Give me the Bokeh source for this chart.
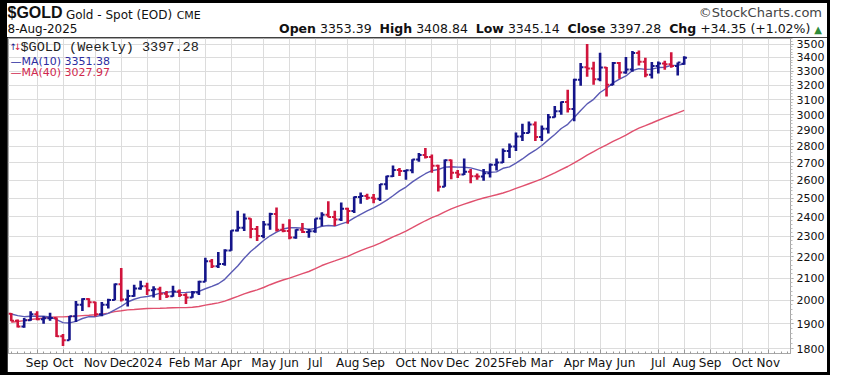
import numpy as np
import pandas as pd
from bokeh.plotting import figure
from bokeh.layouts import column
from bokeh.models import (FixedTicker, Label, NumeralTickFormatter, Range1d, ColumnDataSource, Div)
from bokeh.embed import file_html
from bokeh.resources import INLINE

# ---------------- data (weekly bars, $GOLD spot) ----------------
first_week = "2023-08-11"
opens = [1943,1913,1889,1915,1940,1919,1924,1925,1849,1833,
         1932,1981,2006,1992,1940,1981,2002,2072,2004,2019,
         2053,2063,2045,2049,2029,2018,2039,2024,2013,2035,
         2083,2179,2155,2165,2230,2330,2344,2392,2337,2302,
         2360,2415,2334,2327,2294,2333,2322,2326,2392,2411,
         2400,2386,2443,2431,2507,2512,2503,2497,2577,2622,
         2658,2653,2657,2721,2747,2736,2684,2563,2716,2643,
         2633,2648,2622,2621,2640,2690,2703,2771,2798,2861,
         2883,2936,2858,2910,2984,3023,3085,3038,3237,3327,
         3319,3241,3325,3202,3358,3289,3311,3433,3368,3274,
         3337,3355,3350,3337,3353.39]
highs = [1946,1918,1925,1953,1953,1932,1947,1927,1858,1933,
         1997,2009,2009,1994,1993,2007,2075,2146,2047,2070,
         2088,2078,2063,2061,2041,2065,2048,2031,2041,2088,
         2195,2189,2223,2236,2331,2432,2418,2393,2353,2378,
         2422,2450,2364,2388,2336,2368,2339,2392,2424,2483,
         2432,2477,2448,2509,2531,2525,2523,2578,2625,2685,
         2670,2660,2722,2759,2790,2750,2689,2721,2721,2658,
         2726,2664,2638,2665,2697,2726,2786,2817,2886,2942,
         2955,2956,2930,3005,3057,3087,3168,3245,3358,3500,
         3367,3435,3330,3366,3365,3403,3447,3451,3398,3366,
         3369,3375,3439,3363,3408.84]
lows = [1911,1885,1884,1913,1915,1901,1913,1846,1810,1833,
        1908,1954,1970,1931,1932,1965,2001,1995,1973,2016,
        2047,2024,2013,2002,2010,2016,2015,1984,2011,2024,
        2083,2146,2146,2157,2229,2325,2327,2291,2277,2291,
        2333,2325,2321,2286,2288,2317,2293,2318,2351,2398,
        2353,2378,2364,2421,2470,2492,2472,2485,2546,2618,
        2624,2603,2640,2707,2727,2643,2537,2563,2605,2613,
        2630,2583,2603,2597,2615,2656,2699,2730,2772,2832,
        2881,2833,2832,2880,2982,3000,3015,2957,3195,3260,
        3202,3228,3121,3200,3245,3280,3294,3341,3255,3247,
        3283,3310,3324,3268,3345.14]
closes = [1913,1889,1915,1940,1919,1924,1925,1849,1833,1932,
          1981,2006,1992,1940,1981,2002,2072,2004,2019,2053,
          2063,2045,2049,2029,2018,2039,2024,2013,2035,2083,
          2179,2155,2165,2230,2330,2344,2392,2337,2302,2360,
          2415,2334,2327,2294,2333,2322,2326,2392,2411,2400,
          2386,2443,2431,2507,2512,2503,2497,2577,2622,2658,
          2653,2657,2721,2747,2736,2684,2563,2716,2643,2633,
          2648,2622,2621,2640,2690,2703,2771,2798,2861,2883,
          2936,2858,2910,2984,3023,3085,3038,3237,3327,3319,
          3241,3325,3202,3358,3289,3311,3433,3368,3274,3337,
          3355,3350,3337,3363,3397.28]
# 39 weekly closes before the first bar (needed for the moving averages)
pre_closes = [1771,1751,1755,1797,1797,1793,1798,1824,1866,1920,
              1926,1928,1865,1865,1842,1811,1856,1868,1989,1978,
              1969,2008,2004,1983,1990,2017,2011,1977,1946,1948,
              1961,1958,1921,1919,1925,1955,1962,1959,1943]

month_tick_dates = ["2023-09-08","2023-10-06","2023-11-10","2023-12-08","2024-01-05",
                    "2024-02-09","2024-03-08","2024-04-05","2024-05-10","2024-06-07",
                    "2024-07-05","2024-08-09","2024-09-06","2024-10-11","2024-11-08",
                    "2024-12-06","2025-01-10","2025-02-07","2025-03-07","2025-04-11",
                    "2025-05-09","2025-06-06","2025-07-11","2025-08-08","2025-09-05",
                    "2025-10-10","2025-11-07"]
month_tick_labels = ["Sep","Oct","Nov","Dec","2024","Feb","Mar","Apr","May","Jun",
                     "Jul","Aug","Sep","Oct","Nov","Dec","2025","Feb","Mar","Apr",
                     "May","Jun","Jul","Aug","Sep","Oct","Nov"]
y_ticks = [1800,1900,2000,2100,2200,2300,2400,2500,2600,2700,2800,2900,
           3000,3100,3200,3300,3400,3500]
y_tick_labels = [str(v) for v in y_ticks]

title_symbol = "$GOLD"
title_name = "Gold - Spot (EOD)"
title_exchange = "CME"
title_date = "8-Aug-2025"
header_fields = [("Open", "3353.39"), ("High", "3408.84"), ("Low", "3345.14"),
                 ("Close", "3397.28"), ("Chg", "+34.35 (+1.02%)")]
legend_main = "$GOLD (Weekly) 3397.28"
legend_ma10 = "\u2014MA(10) 3351.38"
legend_ma40 = "\u2014MA(40) 3027.97"

# ---------------- derived ----------------
dates = pd.date_range(first_week, periods=len(closes), freq="7D")
allc = np.array(pre_closes + closes, dtype=float)
def sma(a, n):
    return np.convolve(a, np.ones(n) / n, mode="valid")
ma10 = sma(allc, 10)[-len(closes):]
ma40 = sma(allc, 40)[-len(closes):]

BLUE = "#15158a"
RED = "#d0143c"
o = np.array(opens); c = np.array(closes)
colors = np.where(c >= o, BLUE, RED)
tick = pd.Timedelta(days=3)

src = ColumnDataSource(dict(x=dates, xl=dates - tick, xr=dates + tick,
                            o=opens, h=highs, l=lows, c=closes, col=list(colors)))

def ms(d):
    return pd.Timestamp(d).value / 1e6

# ---------------- header (HTML, mixed weights) ----------------
ohlc_html = "&nbsp; ".join(f"<b>{k}</b> {v}" for k, v in header_fields)
ohlc_html += ' <span style="color:#2e8b3a;font-size:10px;">&#9650;</span>'
hdr = (
    '<div style="position:relative;width:820px;height:34px;background:#ffffff;color:#111111;'
    "font-family:'DejaVu Sans',sans-serif;white-space:nowrap;line-height:1;\">"
    f"<span style=\"position:absolute;left:0.5px;top:2.3px;font:bold 16px/1 'Liberation Sans',sans-serif;\">{title_symbol}</span>"
    f'<span style="position:absolute;left:58.9px;top:5.6px;font-size:12px;">{title_name}</span>'
    f'<span style="position:absolute;left:169.7px;top:6.5px;font-size:11px;">{title_exchange}</span>'
    '<span style="position:absolute;right:5px;top:3.4px;font-size:13px;color:#444444;">&copy;StockCharts.com</span>'
    f'<span style="position:absolute;left:0.5px;top:20.3px;font-size:12px;">{title_date}</span>'
    f'<span style="position:absolute;right:5px;top:20px;font-size:12.5px;">{ohlc_html}</span>'
    "</div>"
)
div = Div(text=hdr, width=820, height=34, margin=(3, 3, 0, 7),
          styles={"background-color": "#ffffff"})

# ---------------- main chart ----------------
W, H = 820, 335
TOP, BOT, LEFT, RIGHT = 1, 17, 1, 35
FH = H - TOP - BOT
Y0, Y1 = 1781, 3543

x0 = pd.Timestamp(first_week)
p = figure(width=W, height=H, x_axis_type="datetime", y_axis_type="log",
           y_axis_location="right",
           x_range=Range1d(x0 - pd.Timedelta(days=2.96), x0 + pd.Timedelta(days=843)),
           y_range=Range1d(Y0, Y1),
           output_backend="svg", toolbar_location=None,
           min_border_left=LEFT, min_border_right=RIGHT,
           min_border_top=TOP, min_border_bottom=BOT,
           background_fill_color="white", border_fill_color="white",
           outline_line_color="#a8a8a8", margin=(0, 3, 3, 7))

p.xgrid.grid_line_color = "#dcdcdc"
p.ygrid.grid_line_color = "#dcdcdc"

mticks = [ms(d) for d in month_tick_dates]
minor = [ms(d) for d in pd.date_range("2023-08-04", "2025-12-05", freq="7D")]
p.xaxis.ticker = FixedTicker(ticks=mticks, minor_ticks=minor)
p.xaxis.major_label_overrides = {t: lab for t, lab in zip(mticks, month_tick_labels)}
p.xaxis.major_label_text_font = "DejaVu Sans"
p.xaxis.major_label_text_font_size = "12px"
p.xaxis.major_label_text_color = "#111111"
p.xaxis.major_label_standoff = 2
p.xaxis.major_tick_in = 4
p.xaxis.major_tick_out = 0
p.xaxis.minor_tick_in = 2
p.xaxis.minor_tick_out = 0
p.xaxis.axis_line_color = "#a8a8a8"
p.xaxis.major_tick_line_color = "#999999"
p.xaxis.minor_tick_line_color = "#999999"

p.yaxis.ticker = FixedTicker(ticks=y_ticks, minor_ticks=list(range(1780, 3560, 20)))
p.yaxis.formatter = NumeralTickFormatter(format="0")
p.yaxis.major_label_overrides = {v: s for v, s in zip(y_ticks, y_tick_labels)}
p.yaxis.major_label_text_font = "DejaVu Sans"
p.yaxis.major_label_text_font_size = "11px"
p.yaxis.major_label_text_color = "#111111"
p.yaxis.major_label_standoff = 3
p.yaxis.major_tick_in = 0
p.yaxis.major_tick_out = 3
p.yaxis.minor_tick_in = 0
p.yaxis.minor_tick_out = 2
p.yaxis.axis_line_color = "#a8a8a8"
p.yaxis.major_tick_line_color = "#999999"
p.yaxis.minor_tick_line_color = "#bbbbbb"

p.line(dates, ma40, line_color="#e0506e", line_width=1.4)
p.line(dates, ma10, line_color="#5a5ab4", line_width=1.4)

p.segment(x0="x", y0="l", x1="x", y1="h", line_color="col", line_width=2.6, source=src)
p.segment(x0="xl", y0="o", x1="x", y1="o", line_color="col", line_width=2.0, source=src)
p.segment(x0="x", y0="c", x1="xr", y1="c", line_color="col", line_width=2.0, source=src)

def lab(text, x, y, size, color="#111111", font="DejaVu Sans", style="normal",
        align="left", baseline="alphabetic"):
    p.add_layout(Label(x=x, y=y, x_units="screen", y_units="screen", text=text,
                       text_font=font, text_font_size=f"{size}px",
                       text_font_style=style, text_color=color,
                       text_align=align, text_baseline=baseline))

# in-chart legend
lab("\u2191", 1, FH - 10.5, 9, color=BLUE)
lab("\u2193", 5.5, FH - 10.5, 9, color=RED)
lab(legend_main, 12, FH - 10.5, 13.5, color="#222222", font="Liberation Mono")
lab(legend_ma10, 2, FH - 24.9, 11, color="#2c2ca0")
lab(legend_ma40, 2, FH - 36.4, 11, color="#d0284e")

layout = column(div, p, spacing=0, styles={"background-color": "#000000"})
open("out.html", "w").write(file_html(layout, INLINE))
